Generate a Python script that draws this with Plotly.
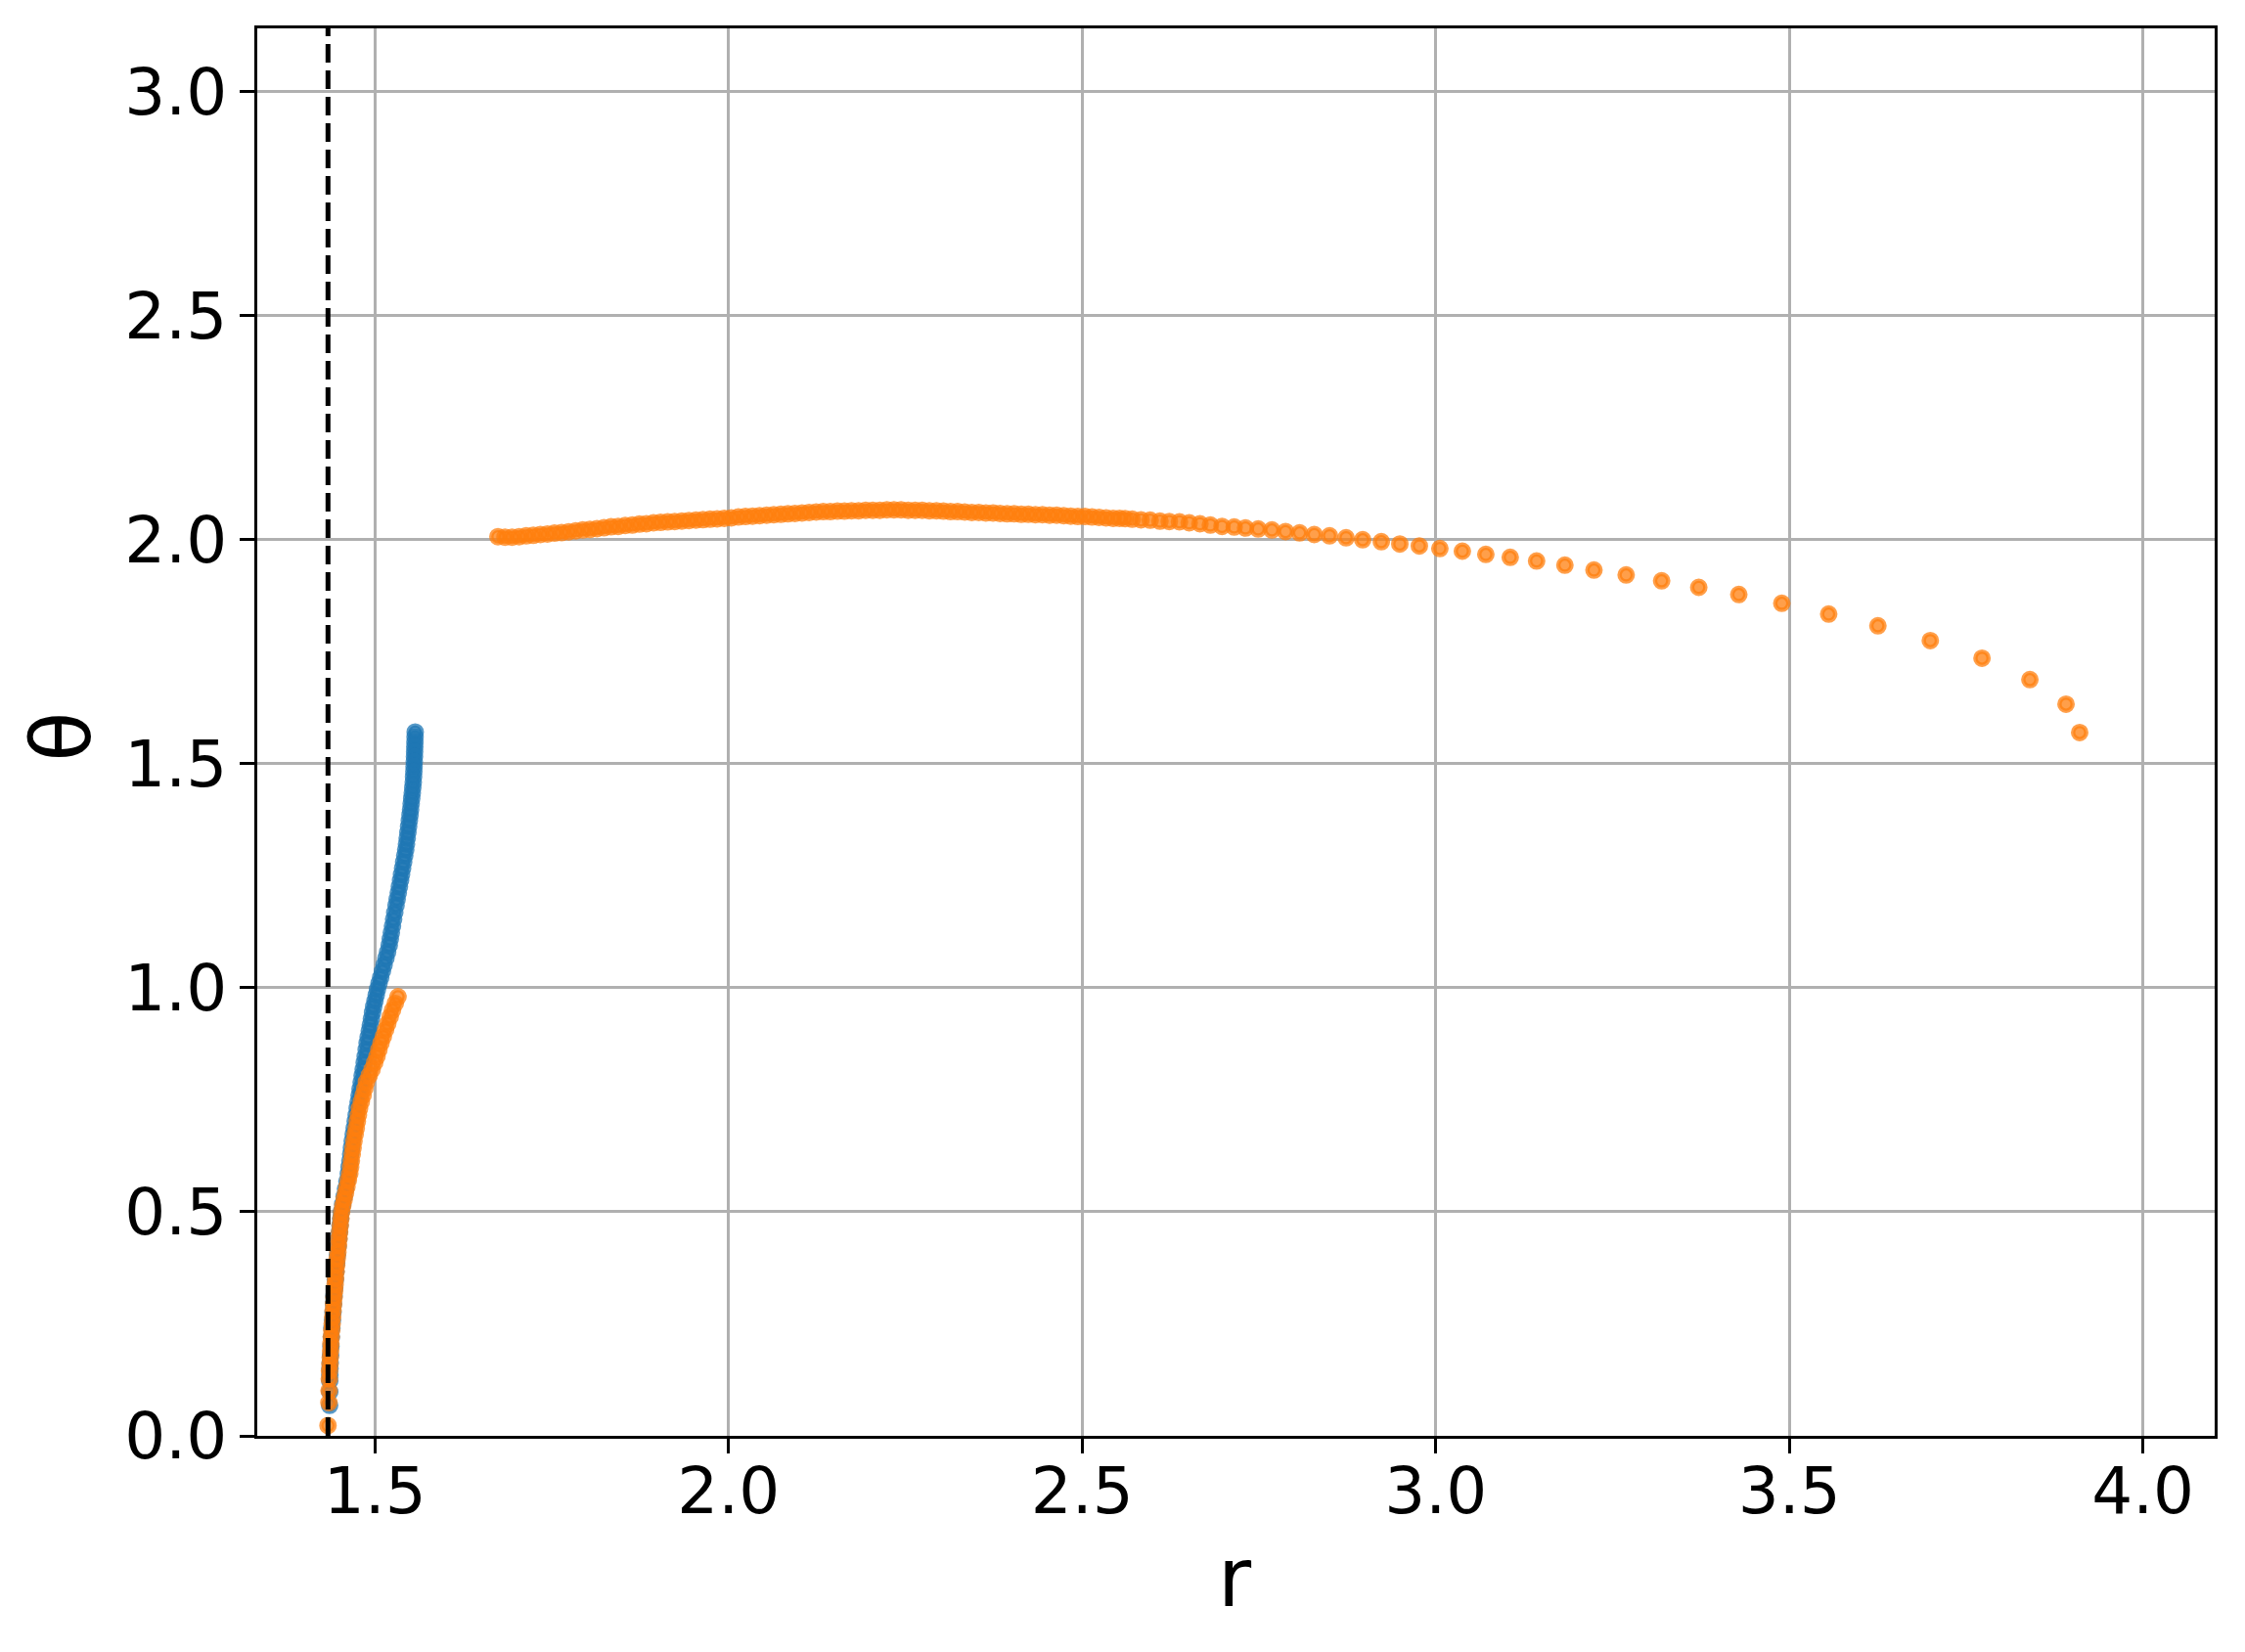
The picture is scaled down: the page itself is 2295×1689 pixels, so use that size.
import plotly.graph_objects as go

# blue branch: theta and r
blue_theta = [1.571, 1.560, 1.549, 1.538, 1.527, 1.516, 1.505, 1.494, 1.483, 1.471,
              1.459, 1.447, 1.435, 1.423, 1.411, 1.398, 1.386, 1.373, 1.360, 1.347,
              1.334, 1.321, 1.308, 1.295, 1.281, 1.267, 1.253, 1.240, 1.226, 1.212,
              1.198, 1.184, 1.168, 1.153, 1.138, 1.123, 1.109, 1.095, 1.080, 1.066,
              1.051, 1.037, 1.023, 1.010, 0.997, 0.984, 0.971, 0.958, 0.945, 0.931,
              0.917, 0.904, 0.890, 0.877, 0.862, 0.847, 0.833, 0.818, 0.804, 0.789,
              0.774, 0.760, 0.745, 0.731, 0.716, 0.702, 0.687, 0.673, 0.658, 0.643,
              0.629, 0.614, 0.600, 0.585, 0.568, 0.551, 0.534, 0.517, 0.500, 0.485,
              0.470, 0.455, 0.440, 0.422, 0.404, 0.386, 0.367, 0.349, 0.330, 0.312,
              0.294, 0.276, 0.258, 0.240, 0.221, 0.200, 0.180, 0.163, 0.150, 0.136,
              0.123, 0.098, 0.068]
blue_r = [1.5570, 1.5568, 1.5566, 1.5564, 1.5562, 1.5560, 1.5557, 1.5554, 1.5551, 1.5547,
          1.5543, 1.5536, 1.5529, 1.5521, 1.5513, 1.5505, 1.5497, 1.5487, 1.5477, 1.5467,
          1.5457, 1.5447, 1.5436, 1.5422, 1.5407, 1.5392, 1.5377, 1.5363, 1.5347, 1.5331,
          1.5315, 1.5299, 1.5281, 1.5265, 1.5249, 1.5233, 1.5218, 1.5203, 1.5180, 1.5156,
          1.5130, 1.5106, 1.5082, 1.5059, 1.5037, 1.5019, 1.5001, 1.4983, 1.4967, 1.4951,
          1.4936, 1.4921, 1.4905, 1.4890, 1.4877, 1.4863, 1.4849, 1.4835, 1.4820, 1.4806,
          1.4791, 1.4777, 1.4763, 1.4750, 1.4736, 1.4722, 1.4708, 1.4694, 1.4680, 1.4669,
          1.4658, 1.4647, 1.4636, 1.4625, 1.4605, 1.4585, 1.4565, 1.4545, 1.4525, 1.4516,
          1.4507, 1.4499, 1.4490, 1.4480, 1.4470, 1.4460, 1.4450, 1.4441, 1.4432, 1.4423,
          1.4415, 1.4408, 1.4400, 1.4392, 1.4385, 1.4379, 1.4373, 1.4368, 1.4365, 1.4363,
          1.4362, 1.4362, 1.4360]

# orange branch, lower part
orange_low_theta = [0.023, 0.074, 0.101, 0.127, 0.145, 0.160, 0.175, 0.190, 0.205, 0.221,
                    0.236, 0.250, 0.265, 0.280, 0.294, 0.309, 0.323, 0.338, 0.352, 0.367,
                    0.381, 0.396, 0.410, 0.425, 0.440, 0.455, 0.470, 0.485, 0.500, 0.514,
                    0.528, 0.542, 0.556, 0.571, 0.585, 0.600, 0.614, 0.629, 0.643, 0.658,
                    0.673, 0.687, 0.702, 0.716, 0.731, 0.746, 0.760, 0.775, 0.790, 0.804,
                    0.818, 0.833, 0.847, 0.862, 0.877, 0.891, 0.906, 0.920, 0.935, 0.950,
                    0.965, 0.980]
orange_low_r = [1.4337, 1.4350, 1.4352, 1.4355, 1.4358, 1.4364, 1.4369, 1.4374, 1.4378, 1.4383,
                1.4390, 1.4396, 1.4403, 1.4409, 1.4416, 1.4423, 1.4431, 1.4438, 1.4445, 1.4452,
                1.4460, 1.4468, 1.4477, 1.4485, 1.4493, 1.4502, 1.4511, 1.4520, 1.4530, 1.4547,
                1.4566, 1.4585, 1.4605, 1.4625, 1.4645, 1.4657, 1.4668, 1.4680, 1.4692, 1.4705,
                1.4721, 1.4737, 1.4752, 1.4767, 1.4783, 1.4808, 1.4833, 1.4858, 1.4880, 1.4920,
                1.4960, 1.4997, 1.5030, 1.5057, 1.5087, 1.5119, 1.5151, 1.5182, 1.5216, 1.5249,
                1.5288, 1.5327]

# orange branch, upper part
orange_up_r = [1.674, 1.684, 1.694, 1.704, 1.714, 1.724, 1.734, 1.744, 1.754, 1.764,
               1.774, 1.784, 1.794, 1.804, 1.814, 1.824, 1.834, 1.844, 1.854, 1.864,
               1.874, 1.884, 1.894, 1.904, 1.914, 1.924, 1.934, 1.944, 1.954, 1.964,
               1.974, 1.984, 1.994, 2.004, 2.014, 2.024, 2.034, 2.044, 2.054, 2.064,
               2.074, 2.084, 2.094, 2.104, 2.114, 2.124, 2.134, 2.144, 2.154, 2.164,
               2.174, 2.184, 2.194, 2.204, 2.214, 2.224, 2.234, 2.244, 2.254, 2.264,
               2.274, 2.284, 2.294, 2.304, 2.314, 2.324, 2.334, 2.344, 2.354, 2.364,
               2.374, 2.384, 2.394, 2.404, 2.414, 2.424, 2.434, 2.444, 2.454, 2.464,
               2.474, 2.484, 2.494, 2.504, 2.514, 2.524, 2.534, 2.544, 2.553,
               2.5608, 2.5709, 2.5833, 2.5963, 2.6101, 2.6233, 2.6377, 2.6515, 2.6667, 2.6814,
               2.6979, 2.7151, 2.7311, 2.7490, 2.7684, 2.7877, 2.8076, 2.8283, 2.8499, 2.8733,
               2.8968, 2.9231, 2.9493, 2.9769, 3.0059, 3.0377, 3.0709, 3.1054, 3.1427, 3.1827,
               3.2238, 3.2693, 3.3195, 3.3720, 3.4286, 3.4894, 3.5557, 3.6253, 3.6994, 3.7725,
               3.8402, 3.8913, 3.9106]
orange_up_theta = [2.007, 2.006, 2.006, 2.007, 2.009, 2.010, 2.012, 2.013, 2.015, 2.016,
                   2.018, 2.020, 2.022, 2.023, 2.025, 2.027, 2.029, 2.030, 2.032, 2.033,
                   2.035, 2.036, 2.038, 2.039, 2.040, 2.041, 2.042, 2.043, 2.044, 2.045,
                   2.046, 2.047, 2.048, 2.049, 2.051, 2.052, 2.053, 2.054, 2.055, 2.056,
                   2.057, 2.058, 2.059, 2.060, 2.061, 2.062, 2.063, 2.063, 2.064, 2.064,
                   2.065, 2.065, 2.066, 2.066, 2.066, 2.067, 2.067, 2.067, 2.066, 2.066,
                   2.066, 2.065, 2.065, 2.064, 2.063, 2.063, 2.062, 2.061, 2.061, 2.060,
                   2.060, 2.059, 2.058, 2.058, 2.057, 2.057, 2.056, 2.056, 2.055, 2.055,
                   2.054, 2.053, 2.052, 2.052, 2.051, 2.050, 2.049, 2.048, 2.048,
                   2.0474, 2.0461, 2.0446, 2.0439, 2.0417, 2.0409, 2.0402, 2.0380, 2.0358, 2.0330,
                   2.0299, 2.0286, 2.0264, 2.0242, 2.0220, 2.0184, 2.0155, 2.0118, 2.0090, 2.0046,
                   2.0002, 1.9958, 1.9906, 1.9863, 1.9806, 1.9747, 1.9674, 1.9609, 1.9528, 1.9434,
                   1.9325, 1.9216, 1.9084, 1.8939, 1.8779, 1.8582, 1.8342, 1.8080, 1.7752, 1.7359,
                   1.6879, 1.6332, 1.5699]

r_horizon = 1.4337
x_ticks = [1.5, 2.0, 2.5, 3.0, 3.5, 4.0]
y_ticks = [0.0, 0.5, 1.0, 1.5, 2.0, 2.5, 3.0]

fig = go.Figure()

fig.add_trace(go.Scatter(
    x=blue_r, y=blue_theta, mode="markers",
    marker=dict(size=13.5, color="rgba(31,119,180,0.75)",
                line=dict(width=4.5, color="rgba(31,119,180,0.75)")),
    showlegend=False))

fig.add_trace(go.Scatter(
    x=orange_low_r + orange_up_r, y=orange_low_theta + orange_up_theta, mode="markers",
    marker=dict(size=13.5, color="rgba(255,127,14,0.75)",
                line=dict(width=4.5, color="rgba(255,127,14,0.75)")),
    showlegend=False))

# dashed vertical line
fig.add_shape(type="line", x0=r_horizon, x1=r_horizon, y0=0, y1=1,
              xref="x", yref="paper", layer="above",
              line=dict(color="black", width=5, dash="19px,8px"))

axis_style = dict(
    showline=True, linecolor="black", linewidth=3.3, mirror=True,
    ticks="outside", ticklen=14.5, tickwidth=3.3, tickcolor="black",
    showgrid=True, gridcolor="#b0b0b0", gridwidth=3.3, zeroline=False,
    tickfont=dict(family="DejaVu Sans", size=66, color="black"),
    tickformat=".1f",
)

fig.update_xaxes(axis_style, range=[1.3337, 4.1015], tickvals=x_ticks, ticklabelstandoff=-18)
fig.update_yaxes(axis_style, range=[0, 3.1416], tickvals=y_ticks)

# axis labels
fig.add_annotation(text="r", x=0.5, y=0, xref="paper", yref="paper",
                   xshift=-1, yshift=-145, xanchor="center", yanchor="middle",
                   showarrow=False, font=dict(family="DejaVu Sans", size=83, color="black"))
fig.add_annotation(text="θ", x=0, y=0.5, xref="paper", yref="paper",
                   xshift=-200, yshift=-5, xanchor="center", yanchor="middle", textangle=-90,
                   showarrow=False, font=dict(family="DejaVu Sans", size=83, color="black"))

fig.update_layout(
    width=2287, height=1681,
    margin=dict(l=255, r=31, t=21, b=221),
    plot_bgcolor="white", paper_bgcolor="white",
)

fig.write_html("out.html")
